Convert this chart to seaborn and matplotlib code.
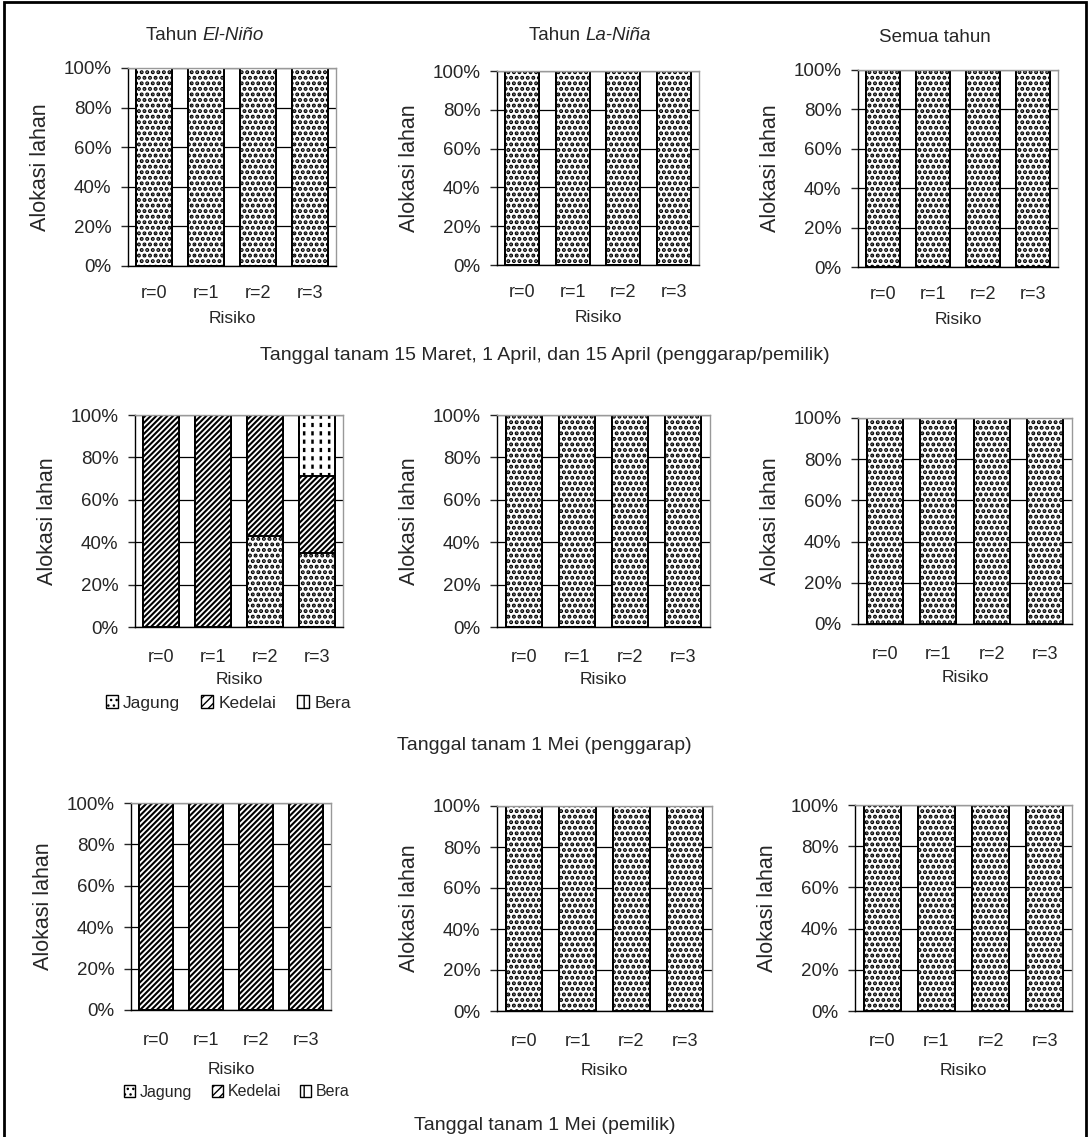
import matplotlib
matplotlib.use("Agg")
import matplotlib.pyplot as plt
import seaborn as sns
import pandas as pd
from matplotlib.patches import Patch, Rectangle
from matplotlib.ticker import FixedLocator, PercentFormatter

sns.set_style("white")
plt.rcParams['font.family'] = ['Liberation Sans', 'DejaVu Sans']

risiko = ['r=0', 'r=1', 'r=2', 'r=3']
crops = ['Jagung', 'Kedelai', 'Bera']

# allocation (%) per panel: [jagung, kedelai, bera]
mar_elnino = [[100, 100, 100, 100], [0, 0, 0, 0], [0, 0, 0, 0]]
mar_lanina = [[100, 100, 100, 100], [0, 0, 0, 0], [0, 0, 0, 0]]
mar_semua = [[100, 100, 100, 100], [0, 0, 0, 0], [0, 0, 0, 0]]
mei_peng_elnino = [[0, 0, 43, 35], [100, 100, 57, 36], [0, 0, 0, 29]]
mei_peng_lanina = [[100, 100, 100, 100], [0, 0, 0, 0], [0, 0, 0, 0]]
mei_peng_semua = [[100, 100, 100, 100], [0, 0, 0, 0], [0, 0, 0, 0]]
mei_pem_elnino = [[0, 0, 0, 0], [100, 100, 100, 100], [0, 0, 0, 0]]
mei_pem_lanina = [[100, 100, 100, 100], [0, 0, 0, 0], [0, 0, 0, 0]]
mei_pem_semua = [[100, 100, 100, 100], [0, 0, 0, 0], [0, 0, 0, 0]]

panel_data = [mar_elnino, mar_lanina, mar_semua,
              mei_peng_elnino, mei_peng_lanina, mei_peng_semua,
              mei_pem_elnino, mei_pem_lanina, mei_pem_semua]

hatches = {'Jagung': '...', 'Kedelai': '//////', 'Bera': '||'}
hatch_lw = {'Jagung': 2.0, 'Kedelai': 1.5, 'Bera': 1.8}

captions = ['Tanggal tanam 15 Maret, 1 April, dan 15 April (penggarap/pemilik)',
            'Tanggal tanam 1 Mei (penggarap)',
            'Tanggal tanam 1 Mei (pemilik)']

W, H = 1089, 1137
fig = plt.figure(figsize=(W / 100, H / 100), dpi=100)

# panel boxes in pixels: x0, y0, x1, y1
boxes = [(128, 68, 336, 266), (497, 71, 699, 265), (858, 70, 1058, 267),
         (135, 415, 343, 627), (497, 415, 710, 627), (858, 418, 1072, 624),
         (131, 803, 331, 1010), (497, 806, 712, 1011), (855, 805, 1072, 1011)]


def px_rect(b):
    x0, y0, x1, y1 = b
    return [x0 / W, 1 - y1 / H, (x1 - x0) / W, (y1 - y0) / H]


bar_w = 0.68
axes = []
for k, (b, vals) in enumerate(zip(boxes, panel_data)):
    ax = fig.add_axes(px_rect(b))
    axes.append(ax)
    df = pd.DataFrame({'Risiko': risiko,
                       'Jagung': vals[0], 'Kedelai': vals[1], 'Bera': vals[2]})
    df['top_kedelai'] = df['Jagung'] + df['Kedelai']
    df['top_bera'] = df['top_kedelai'] + df['Bera']

    # Bera layer: vertical lines, broken into dashes by a white overlay
    with plt.rc_context({'hatch.linewidth': hatch_lw['Bera']}):
        sns.barplot(data=df, x='Risiko', y='top_bera', ax=ax, color='white',
                    edgecolor='black', linewidth=1.4, width=bar_w,
                    hatch=hatches['Bera'], saturation=1)
    with plt.rc_context({'hatch.linewidth': 3.0}):
        sns.barplot(data=df, x='Risiko', y='top_bera', ax=ax, color='white',
                    fill=False, linewidth=0, width=bar_w, hatch='--', saturation=1)
    sns.barplot(data=df, x='Risiko', y='top_bera', ax=ax, color='black',
                fill=False, linewidth=1.4, width=bar_w, saturation=1)

    # Kedelai and Jagung drawn over (cumulative tops)
    for col, crop in [('top_kedelai', 'Kedelai'), ('Jagung', 'Jagung')]:
        with plt.rc_context({'hatch.linewidth': hatch_lw[crop]}):
            sns.barplot(data=df, x='Risiko', y=col, ax=ax, color='white',
                        edgecolor='black', linewidth=1.4, width=bar_w,
                        hatch=hatches[crop], saturation=1)
    ax.set_ylim(0, 100)
    ax.set_xlim(-0.5, 3.5)
    ax.yaxis.set_major_locator(FixedLocator([0, 20, 40, 60, 80, 100]))
    ax.yaxis.set_major_formatter(PercentFormatter(decimals=0))
    ax.yaxis.grid(True, color='black', lw=0.9)
    ax.set_axisbelow(True)
    ax.xaxis.set_minor_locator(FixedLocator([-0.5, 0.5, 1.5, 2.5, 3.5]))
    ax.tick_params(axis='x', which='major', length=0, pad=14 if k < 3 else 16, labelsize=13)
    ax.tick_params(axis='x', which='minor', length=5, width=1, color='black', direction='out')
    ax.tick_params(axis='y', length=5, width=1, direction='out', pad=7, labelsize=13.5, left=True)
    for s in ['left', 'bottom']:
        ax.spines[s].set_color('black')
        ax.spines[s].set_linewidth(1.0)
    for s in ['top', 'right']:
        ax.spines[s].set_color('#999999')
        ax.spines[s].set_linewidth(1.0)
    ax.set_ylabel('Alokasi lahan', fontsize=15.5, labelpad=9)
    ax.set_xlabel('Risiko', fontsize=12.5, labelpad=[6, 6, 6, 4, 4, 5, 9, 9, 9][k])

# row 1 titles with italic parts
titles = [('Tahun ', 'El-Niño', 205, 35), ('Tahun ', 'La-Niña', 590, 35), ('Semua tahun', '', 935, 38)]
for plain, ital, cx, cy in titles:
    t1 = fig.text(0, 0, plain, fontsize=13.5)
    t2 = fig.text(0, 0, ital, fontsize=13.5, style='italic')
    fig.canvas.draw()
    r = fig.canvas.get_renderer()
    w1 = t1.get_window_extent(r).width
    w2 = t2.get_window_extent(r).width if ital else 0
    x0 = cx - (w1 + w2) / 2
    for t, xs in [(t1, x0), (t2, x0 + w1)]:
        t.set_position((xs / W, 1 - cy / H))
        t.set_va('center')

# legends under left panels of rows 2 and 3
with plt.rc_context({'hatch.linewidth': 1.2}):
    handles = [Patch(facecolor='white', edgecolor='black', hatch=h, label=c)
               for c, h in zip(crops, ['...', '////', '||'])]
for ypx, xpx, fs in [(703, 97, 12.5), (1092, 116, 11.5)]:
    fig.legend(handles=handles, loc='center left', bbox_to_anchor=(xpx / W, 1 - ypx / H),
               ncol=3, frameon=False, fontsize=fs, handlelength=0.7, handleheight=0.7,
               handletextpad=0.3, columnspacing=1.2, borderpad=0)

for cap, ypx in zip(captions, [355, 746, 1125]):
    fig.text(0.5, 1 - ypx / H, cap, fontsize=14, ha='center', va='center')

fig.add_artist(Rectangle((4 / W, -0.01), (W - 7) / W, 1.01 - 2 / H,
                         transform=fig.transFigure, fill=False, lw=2, edgecolor='black'))

fig.savefig('out.png', dpi=100)
